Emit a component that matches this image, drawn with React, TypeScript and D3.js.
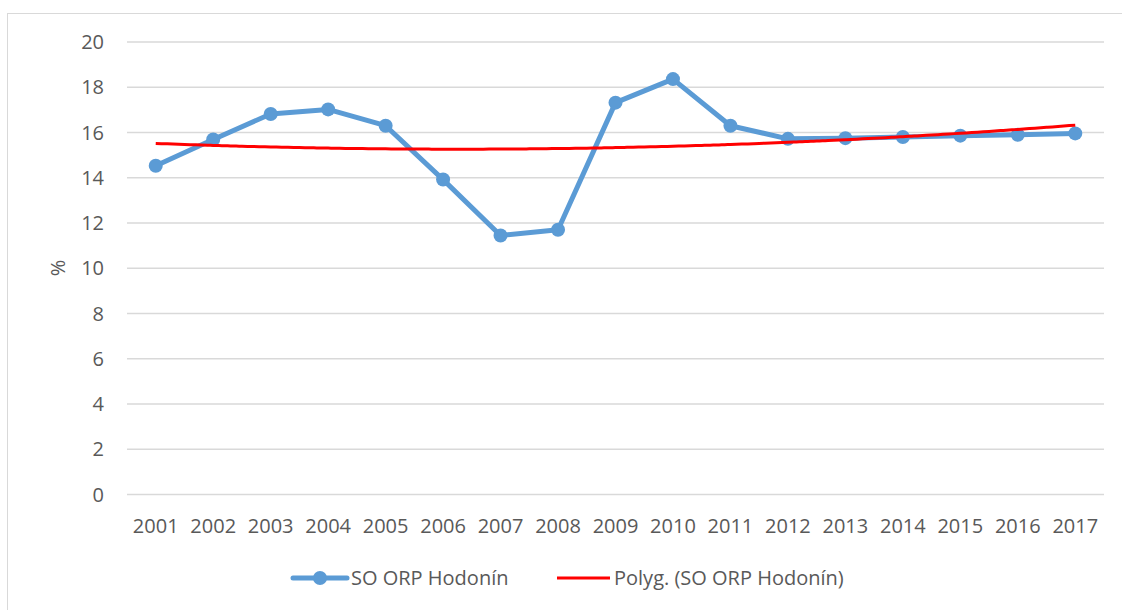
import React, { useRef, useEffect } from 'react';
import * as d3 from 'd3';

const years = ['2001', '2002', '2003', '2004', '2005', '2006', '2007', '2008', '2009', '2010', '2011', '2012', '2013', '2014', '2015', '2016', '2017'];
const values = [14.53, 15.69, 16.82, 17.02, 16.3, 13.92, 11.45, 11.7, 17.32, 18.36, 16.3, 15.72, 15.75, 15.8, 15.86, 15.9, 15.96];
const yTicks = [0, 2, 4, 6, 8, 10, 12, 14, 16, 18, 20];

const seriesName = 'SO ORP Hodonín';
const trendName = 'Polyg. (SO ORP Hodonín)';

const width = 1122;
const height = 610;
const margin = { top: 42, right: 18, bottom: 115.5, left: 127 };
const font = '"Open Sans", sans-serif';
const fontSize = 20;
const textColor = '#595959';
const blue = '#5B9BD5';
const red = '#FF0000';

// least squares fit of a 2nd order polynomial (Excel "Polyg." trendline)
function polyFit2(ys: number[]) {
  const s = [0, 0, 0, 0, 0];
  const t = [0, 0, 0];
  ys.forEach((y, i) => {
    const x = i + 1;
    for (let k = 0; k < 5; k++) s[k] += x ** k;
    for (let k = 0; k < 3; k++) t[k] += y * x ** k;
  });
  const m = [
    [s[0], s[1], s[2], t[0]],
    [s[1], s[2], s[3], t[1]],
    [s[2], s[3], s[4], t[2]],
  ];
  for (let c = 0; c < 3; c++) {
    for (let r = c + 1; r < 3; r++) {
      const f = m[r][c] / m[c][c];
      for (let k = c; k < 4; k++) m[r][k] -= f * m[c][k];
    }
  }
  const coef = [0, 0, 0];
  for (let r = 2; r >= 0; r--) {
    let v = m[r][3];
    for (let k = r + 1; k < 3; k++) v -= m[r][k] * coef[k];
    coef[r] = v / m[r][r];
  }
  return (x: number) => coef[0] + coef[1] * x + coef[2] * x * x;
}

const App = () => {
  const ref = useRef<SVGSVGElement | null>(null);

  useEffect(() => {
    if (!ref.current) return;
    const svg = d3.select(ref.current);
    svg.selectAll('*').remove();

    const x = d3
      .scaleBand()
      .domain(years)
      .range([margin.left, width - margin.right]);
    const cx = (d: string) => (x(d) ?? 0) + x.bandwidth() / 2;
    const y = d3
      .scaleLinear()
      .domain([0, 20])
      .range([height - margin.bottom, margin.top]);

    // chart border (right and bottom edges fall outside the picture)
    svg
      .append('rect')
      .attr('x', 7.5)
      .attr('y', 13.5)
      .attr('width', width + 20)
      .attr('height', height + 20)
      .attr('fill', 'none')
      .attr('stroke', '#d9d9d9')
      .attr('stroke-width', 1);

    // gridlines
    svg
      .append('g')
      .selectAll('line')
      .data(yTicks)
      .enter()
      .append('line')
      .attr('x1', margin.left)
      .attr('x2', width - margin.right)
      .attr('y1', (d) => y(d))
      .attr('y2', (d) => y(d))
      .attr('stroke', '#d9d9d9')
      .attr('stroke-width', 1.5);

    // y tick labels
    svg
      .append('g')
      .selectAll('text')
      .data(yTicks)
      .enter()
      .append('text')
      .attr('x', 104)
      .attr('y', (d) => y(d))
      .attr('dy', '0.35em')
      .attr('text-anchor', 'end')
      .attr('font-family', font)
      .attr('font-size', fontSize)
      .attr('fill', textColor)
      .text((d) => d);

    // x tick labels
    svg
      .append('g')
      .selectAll('text')
      .data(years)
      .enter()
      .append('text')
      .attr('x', (d) => cx(d))
      .attr('y', 533)
      .attr('text-anchor', 'middle')
      .attr('font-family', font)
      .attr('font-size', fontSize)
      .attr('fill', textColor)
      .text((d) => d);

    // y axis title
    svg
      .append('text')
      .attr('transform', 'translate(65,268) rotate(-90)')
      .attr('text-anchor', 'middle')
      .attr('font-family', font)
      .attr('font-size', fontSize)
      .attr('fill', textColor)
      .text('%');

    // data line
    const line = d3
      .line<number>()
      .x((_, i) => cx(years[i]))
      .y((d) => y(d));
    svg
      .append('path')
      .datum(values)
      .attr('fill', 'none')
      .attr('stroke', blue)
      .attr('stroke-width', 5)
      .attr('stroke-linejoin', 'round')
      .attr('d', line);

    svg
      .append('g')
      .selectAll('circle')
      .data(values)
      .enter()
      .append('circle')
      .attr('cx', (_, i) => cx(years[i]))
      .attr('cy', (d) => y(d))
      .attr('r', 7)
      .attr('fill', blue);

    // polynomial trendline
    const fit = polyFit2(values);
    const trendPts = d3.range(1, years.length + 0.001, 0.1);
    const trendLine = d3
      .line<number>()
      .x((t) => cx(years[0]) + (t - 1) * x.step())
      .y((t) => y(fit(t)))
      .curve(d3.curveMonotoneX);
    svg
      .append('path')
      .datum(trendPts)
      .attr('fill', 'none')
      .attr('stroke', red)
      .attr('stroke-width', 3)
      .attr('d', trendLine);

    // legend
    const ly = 578;
    const lg = svg.append('g');
    lg.append('line')
      .attr('x1', 293)
      .attr('x2', 347)
      .attr('y1', ly)
      .attr('y2', ly)
      .attr('stroke', blue)
      .attr('stroke-width', 5)
      .attr('stroke-linecap', 'round');
    lg.append('circle').attr('cx', 320).attr('cy', ly).attr('r', 7).attr('fill', blue);
    lg.append('text')
      .attr('x', 351)
      .attr('y', ly)
      .attr('dy', '0.35em')
      .attr('font-family', font)
      .attr('font-size', fontSize)
      .attr('fill', textColor)
      .text(seriesName);
    lg.append('line')
      .attr('x1', 557)
      .attr('x2', 610)
      .attr('y1', ly)
      .attr('y2', ly)
      .attr('stroke', red)
      .attr('stroke-width', 3);
    lg.append('text')
      .attr('x', 614)
      .attr('y', ly)
      .attr('dy', '0.35em')
      .attr('font-family', font)
      .attr('font-size', fontSize)
      .attr('fill', textColor)
      .text(trendName);
  }, []);

  return (
    <svg
      ref={ref}
      width={width}
      height={height}
      style={{ position: 'absolute', left: 0, top: 0, background: '#fff' }}
    />
  );
};

export default App;
